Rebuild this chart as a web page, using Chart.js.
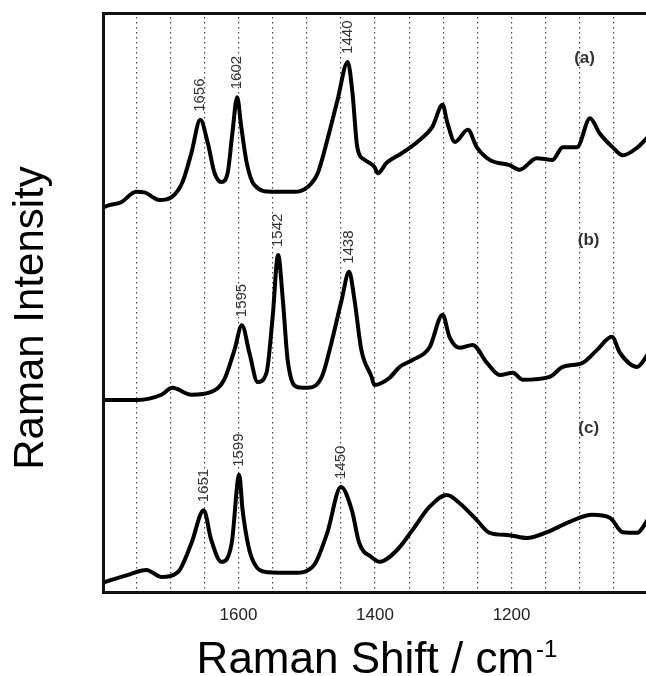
<!DOCTYPE html>
<html>
<head>
<meta charset="utf-8">
<title>Raman spectra</title>
<script src="https://cdn.jsdelivr.net/npm/chart.js@4.4.1/dist/chart.umd.min.js"></script>
<style>
  html, body { margin: 0; padding: 0; background: #fff; overflow: hidden; }
  #wrap { position: absolute; left: 0; top: 0; width: 646px; height: 676px; }
</style>
</head>
<body>
<div id="wrap"><canvas id="raman"></canvas></div>
<script>
// spectrum (a)
const shiftA = [1800, 1796, 1772, 1750, 1738, 1716, 1698, 1682, 1669, 1656, 1645, 1635, 1625, 1616, 1609, 1602, 1596, 1588, 1577, 1552, 1518, 1499, 1484, 1470, 1455, 1440, 1433, 1426, 1415, 1401, 1396, 1383, 1360, 1335, 1316, 1301, 1294, 1283, 1264, 1251, 1232, 1203, 1188, 1163, 1140, 1125, 1104, 1085, 1071, 1052, 1037, 1016, 1000];
const intA = [66.0, 66.4, 67.2, 69.0, 68.9, 67.6, 68.1, 70.7, 75.7, 81.4, 77.4, 72.2, 70.7, 72.2, 79.1, 85.3, 80.2, 74.0, 70.2, 69.0, 69.0, 69.8, 72.2, 77.9, 84.8, 91.4, 86.0, 76.7, 74.5, 73.3, 72.2, 74.0, 75.7, 77.9, 80.2, 84.0, 80.9, 77.6, 79.7, 76.7, 74.5, 73.6, 72.8, 74.8, 74.5, 76.7, 76.7, 81.7, 79.1, 76.7, 75.3, 76.6, 78.5];
const peaksA = [1656, 1602, 1440];

// spectrum (b)
const shiftB = [1800, 1796, 1748, 1713, 1697, 1669, 1640, 1621, 1606, 1595, 1584, 1572, 1559, 1550, 1542, 1535, 1528, 1513, 1499, 1478, 1464, 1449, 1438, 1430, 1420, 1405, 1401, 1379, 1364, 1345, 1320, 1301, 1291, 1276, 1257, 1236, 1217, 1198, 1184, 1144, 1125, 1096, 1075, 1053, 1041, 1016, 1000];
const intB = [33.1, 33.1, 33.1, 34.0, 35.2, 34.0, 34.5, 36.6, 41.7, 46.0, 41.2, 36.2, 37.8, 47.4, 58.1, 50.3, 40.0, 35.3, 35.2, 37.1, 42.9, 50.3, 55.2, 50.3, 41.7, 37.1, 35.7, 36.9, 38.8, 40.0, 42.2, 47.8, 44.0, 42.1, 42.6, 39.5, 37.4, 37.8, 36.6, 37.1, 38.8, 39.5, 41.7, 44.0, 41.2, 38.8, 41.0];
const peaksB = [1595, 1542, 1438];

// spectrum (c)
const shiftC = [1800, 1796, 1763, 1735, 1713, 1689, 1669, 1651, 1640, 1625, 1610, 1599, 1594, 1581, 1557, 1518, 1489, 1470, 1450, 1434, 1423, 1405, 1393, 1368, 1345, 1320, 1295, 1276, 1251, 1232, 1203, 1178, 1148, 1115, 1082, 1056, 1037, 1016, 1000];
const intC = [1.5, 1.7, 2.9, 3.8, 2.6, 3.4, 8.4, 14.1, 9.0, 5.2, 8.4, 20.2, 14.1, 6.0, 3.4, 3.3, 4.7, 10.2, 18.1, 14.1, 8.4, 6.0, 5.2, 7.2, 10.7, 14.7, 16.7, 15.3, 12.4, 10.2, 9.8, 9.3, 10.3, 12.1, 13.3, 12.8, 10.3, 10.2, 12.5];
const peaksC = [1651, 1599, 1450];

const seriesTags = ["(a)", "(b)", "(c)"];
const tickLabels = [1600, 1400, 1200];
const gridShifts = [1750, 1700, 1650, 1600, 1550, 1500, 1450, 1400, 1350, 1300, 1250, 1200, 1150, 1100, 1050];

const FONT = "'Liberation Sans', Arial, Helvetica, sans-serif";

const spectra = [
  { shift: shiftA, intensity: intA, peaks: peaksA, tag: seriesTags[0], tagAt: [1093, 92.1] },
  { shift: shiftB, intensity: intB, peaks: peaksB, tag: seriesTags[1], tagAt: [1087, 60.7] },
  { shift: shiftC, intensity: intC, peaks: peaksC, tag: seriesTags[2], tagAt: [1087, 28.3] }
];

const toPoints = (xs, ys) => xs.map((x, i) => ({ x: x, y: ys[i] }));

/* peak numbers, series letters, frame and axis titles */
const decorations = {
  id: "decorations",
  afterDatasetsDraw(chart) {
    const { ctx, chartArea: a, scales: { x, y } } = chart;
    ctx.save();

    // peak positions, written upright above each maximum
    ctx.fillStyle = "#333";
    ctx.font = "15px " + FONT;
    spectra.forEach((s) => {
      s.peaks.forEach((p) => {
        const i = s.shift.indexOf(p);
        const px = x.getPixelForValue(p);
        const py = y.getPixelForValue(s.intensity[i]);
        ctx.save();
        ctx.translate(px, py - 8);
        ctx.rotate(-Math.PI / 2);
        ctx.textAlign = "left";
        ctx.textBaseline = "middle";
        ctx.fillText(String(p), 0, 0);
        ctx.restore();
      });
    });

    // (a) (b) (c)
    ctx.font = "bold 17px " + FONT;
    ctx.textAlign = "center";
    ctx.textBaseline = "middle";
    spectra.forEach((s) => {
      ctx.fillText(s.tag, x.getPixelForValue(s.tagAt[0]), y.getPixelForValue(s.tagAt[1]));
    });

    // frame: left, top, bottom (right side runs off the page)
    ctx.strokeStyle = "#111";
    ctx.lineWidth = 3;
    ctx.beginPath();
    ctx.moveTo(chart.width, a.top + 1.5);
    ctx.lineTo(a.left + 1.5, a.top + 1.5);
    ctx.lineTo(a.left + 1.5, a.bottom - 1.5);
    ctx.lineTo(chart.width, a.bottom - 1.5);
    ctx.stroke();

    // axis titles
    ctx.fillStyle = "#000";
    ctx.font = "42px " + FONT;
    ctx.save();
    ctx.translate(43, 318);
    ctx.rotate(-Math.PI / 2);
    ctx.textAlign = "center";
    ctx.textBaseline = "alphabetic";
    ctx.fillText("Raman Intensity", 0, 0);
    ctx.restore();

    const main = "Raman Shift / cm";
    const sup = "-1";
    ctx.font = "44px " + FONT;
    const wMain = ctx.measureText(main).width;
    ctx.font = "24px " + FONT;
    const wSup = ctx.measureText(sup).width;
    const x0 = 377 - (wMain + 2 + wSup) / 2;
    ctx.textAlign = "left";
    ctx.textBaseline = "alphabetic";
    ctx.font = "44px " + FONT;
    ctx.fillText(main, x0, 673);
    ctx.font = "24px " + FONT;
    ctx.fillText(sup, x0 + wMain + 2, 657);

    ctx.restore();
  }
};

const lineStyle = {
  borderColor: "#000",
  borderWidth: 4,
  pointRadius: 0,
  fill: false,
  cubicInterpolationMode: "monotone"
};

new Chart(document.getElementById("raman").getContext("2d"), {
  type: "line",
  data: {
    datasets: spectra.map((s) => Object.assign({
      label: s.tag,
      data: toPoints(s.shift, s.intensity)
    }, lineStyle))
  },
  options: {
    responsive: true,
    maintainAspectRatio: false,
    animation: false,
    layout: { padding: { left: 102, top: 12, right: 0, bottom: 0 } },
    plugins: {
      legend: { display: false },
      tooltip: { enabled: false }
    },
    scales: {
      x: {
        type: "linear",
        reverse: true,
        min: 1003,
        max: 1800,
        afterBuildTicks: (scale) => {
          scale.ticks = gridShifts.map((v) => ({ value: v }));
        },
        afterFit: (scale) => { scale.height = 82; },
        grid: {
          color: "#444",
          lineWidth: 1.2,
          drawTicks: false
        },
        border: { display: false, dash: [1.5, 3.5] },
        ticks: {
          autoSkip: false,
          maxRotation: 0,
          padding: 11,
          color: "#222",
          font: { family: FONT, size: 17 },
          callback: (v) => tickLabels.includes(v) ? String(v) : ""
        }
      },
      y: {
        display: false,
        min: -0.35,
        max: 100
      }
    }
  },
  plugins: [decorations]
});
</script>
</body>
</html>
